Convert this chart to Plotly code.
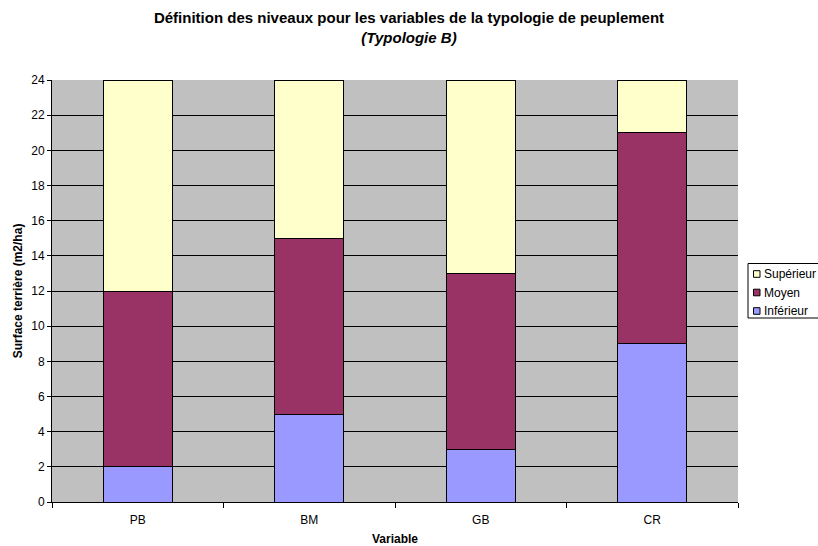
import plotly.graph_objects as go

categories = ["PB", "BM", "GB", "CR"]
inferieur = [2, 5, 3, 9]
moyen = [10, 10, 10, 12]
superieur = [12, 9, 11, 3]

series_names = ["Inférieur", "Moyen", "Supérieur"]
series_values = [inferieur, moyen, superieur]
series_colors = ["#9999FF", "#993366", "#FFFFCC"]

font = "Liberation Sans, Arial, sans-serif"

W, H = 818, 546
L, R, T, B = 52, 80, 80, 44
PW, PH = W - L - R, H - T - B


def px(x):
    return (x - L) / PW


def py(y):
    return (H - B - y) / PH


fig = go.Figure()
for name, vals, col in zip(series_names, series_values, series_colors):
    fig.add_trace(go.Bar(name=name, x=categories, y=vals,
                         marker=dict(color=col, line=dict(color="black", width=1)),
                         showlegend=False))

# manual legend (Excel style)
shapes = [dict(type="rect", xref="paper", yref="paper",
               x0=px(748), x1=px(822), y0=py(318), y1=py(263.5),
               line=dict(color="black", width=1), fillcolor="white", layer="above")]
annotations = []
legend_y = [311, 292.5, 274]  # Inférieur, Moyen, Supérieur (bottom to top)
for name, col, yc in zip(series_names, series_colors, legend_y):
    shapes.append(dict(type="rect", xref="paper", yref="paper",
                       x0=px(753.5), x1=px(760), y0=py(yc + 3.3), y1=py(yc - 3.3),
                       line=dict(color="black", width=1), fillcolor=col, layer="above"))
    annotations.append(dict(xref="paper", yref="paper", x=px(761.5), y=py(yc),
                            xanchor="left", yanchor="middle", showarrow=False,
                            text=name, font=dict(family=font, size=12, color="black")))

fig.update_layout(
    barmode="stack",
    bargap=0.6,
    width=W, height=H,
    margin=dict(l=L, r=R, t=T, b=B, autoexpand=False),
    paper_bgcolor="white",
    plot_bgcolor="#C0C0C0",
    font=dict(family=font, size=12, color="black"),
    showlegend=False,
    title=dict(
        text="<b>Définition des niveaux pour les variables de la typologie de peuplement</b><br><b><i>(Typologie B)</i></b>",
        x=0.5, xanchor="center", xref="container", y=0.9575, yanchor="top",
        font=dict(family=font, size=15, color="black"),
    ),
    xaxis=dict(
        title=dict(text="<b>Variable</b>", font=dict(size=12), standoff=13),
        showline=True, linecolor="black", linewidth=1,
        ticks="outside", tickson="boundaries", ticklen=5, tickcolor="black",
        ticklabelstandoff=7,
        showgrid=False, automargin=False,
    ),
    yaxis=dict(
        title=dict(text="<b>Surface terrière (m2/ha)</b>", font=dict(size=12), standoff=6),
        range=[0, 24], dtick=2,
        showline=True, linecolor="black", linewidth=1,
        ticks="outside", ticklen=4, tickcolor="black",
        showgrid=True, gridcolor="black", gridwidth=1,
        zeroline=False, automargin=False,
    ),
    shapes=shapes,
    annotations=annotations,
)

fig.write_html("out.html",
               config={"displayModeBar": False},
               post_script="document.body.style.margin='0';document.body.style.overflow='hidden';")
